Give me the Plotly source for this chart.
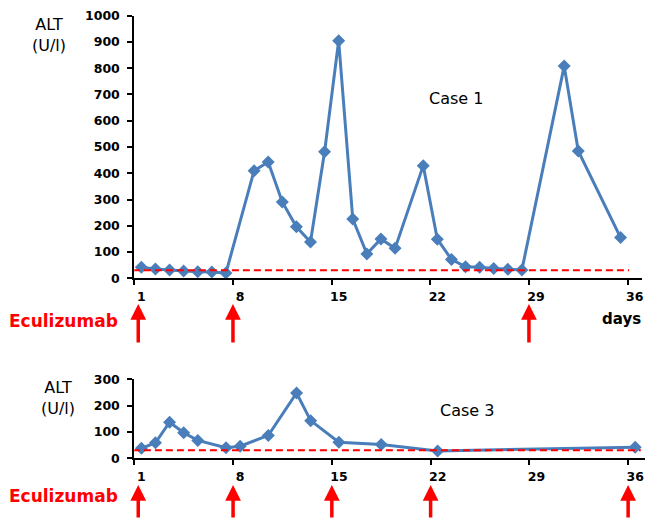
import plotly.graph_objects as go

# ---- data ----
days_case1 = [1, 2, 3, 4, 5, 6, 7, 9, 10, 11, 12, 13, 14, 15, 16, 17, 18, 19,
              21, 22, 23, 24, 25, 26, 27, 28, 31, 32, 35]
alt_case1 = [42, 35, 32, 28, 25, 24, 20, 410, 443, 291, 196, 138, 482, 905, 226, 93, 150, 114,
             429, 149, 72, 44, 42, 37, 34, 32, 808, 485, 155]

days_case3 = [1, 2, 3, 4, 5, 7, 8, 10, 12, 13, 15, 18, 22, 36]
alt_case3 = [38, 59, 137, 97, 68, 40, 46, 87, 248, 143, 61, 52, 28, 42]

uln = 31  # upper limit of normal (dashed line)
dose_case1 = [1, 8, 29]
dose_case3 = [1, 8, 15, 22, 36]
tick_days = [1, 8, 15, 22, 29, 36]
y1_ticks = list(range(0, 1001, 100))
y3_ticks = [0, 100, 200, 300]

BLUE = "#4A7EBB"
FONT = "DejaVu Sans"

fig = go.Figure()

# Case 1
fig.add_trace(go.Scatter(x=days_case1, y=alt_case1, mode="lines+markers",
                         line=dict(color=BLUE, width=3),
                         marker=dict(symbol="diamond", size=10, color=BLUE),
                         xaxis="x", yaxis="y", showlegend=False))
fig.add_trace(go.Scatter(x=[0.4, 35.6], y=[uln, uln], mode="lines",
                         line=dict(color="red", width=2, dash="7px,4px"),
                         xaxis="x", yaxis="y", showlegend=False))
# Case 3
fig.add_trace(go.Scatter(x=days_case3, y=alt_case3, mode="lines+markers",
                         line=dict(color=BLUE, width=3),
                         marker=dict(symbol="diamond", size=10, color=BLUE),
                         xaxis="x2", yaxis="y2", showlegend=False))
fig.add_trace(go.Scatter(x=[0.4, 36.4], y=[uln, uln], mode="lines",
                         line=dict(color="red", width=2, dash="7px,4px"),
                         xaxis="x2", yaxis="y2", showlegend=False))

W, H = 646, 519
def px_x(p):
    return p / W
def px_y(p):
    return (H - p) / H

tickfont = dict(family=FONT, size=12.5, color="black", weight="bold")
minor_ticks = [d - 0.5 for d in tick_days]

def xaxis_cfg(domain, rng, anchor):
    return dict(domain=domain, range=rng, anchor=anchor,
                tickmode="array", tickvals=tick_days, ticktext=[str(d) for d in tick_days],
                ticks="", ticklabelstandoff=6, tickfont=tickfont,
                minor=dict(tickmode="array", tickvals=minor_ticks, ticks="outside",
                           ticklen=5, tickwidth=2, tickcolor="black"),
                showline=True, linecolor="black", linewidth=2,
                showgrid=False, zeroline=False, automargin=False, fixedrange=True)

def yaxis_cfg(domain, rng, vals, anchor):
    return dict(domain=domain, range=rng, anchor=anchor,
                tickmode="array", tickvals=vals, ticks="outside", ticklen=5,
                tickwidth=2, tickcolor="black", ticklabelstandoff=5, tickfont=tickfont,
                showline=True, linecolor="black", linewidth=2,
                showgrid=False, zeroline=False, automargin=False, fixedrange=True)

fig.update_layout(
    width=W, height=H,
    margin=dict(l=0, r=0, t=0, b=0),
    paper_bgcolor="white", plot_bgcolor="white",
    font=dict(family=FONT, color="black"),
    xaxis=xaxis_cfg([px_x(134.3), px_x(641.7)], [0.5, 36.5], "y"),
    yaxis=yaxis_cfg([px_y(278.3), px_y(15.7)], [0, 1000], y1_ticks, "x"),
    xaxis2=xaxis_cfg([px_x(134.3), px_x(644.5)], [0.5, 36.66], "y2"),
    yaxis2=yaxis_cfg([px_y(458.3), px_y(379.3)], [0, 300], y3_ticks, "x2"),
)

ann = []
# y-axis titles
ann.append(dict(text="ALT<br>(U/l)", x=px_x(49), y=px_y(35), xref="paper", yref="paper",
                showarrow=False, font=dict(family=FONT, size=16, color="black"),
                xanchor="center", yanchor="middle"))
ann.append(dict(text="ALT<br>(U/l)", x=px_x(58), y=px_y(398), xref="paper", yref="paper",
                showarrow=False, font=dict(family=FONT, size=16, color="black"),
                xanchor="center", yanchor="middle"))
# case labels
ann.append(dict(text="Case 1", x=px_x(456), y=px_y(98.5), xref="paper", yref="paper",
                showarrow=False, font=dict(family=FONT, size=16, color="black"),
                xanchor="center", yanchor="middle"))
ann.append(dict(text="Case 3", x=px_x(467), y=px_y(410), xref="paper", yref="paper",
                showarrow=False, font=dict(family=FONT, size=16, color="black"),
                xanchor="center", yanchor="middle"))
# Eculizumab labels
ann.append(dict(text="Eculizumab", x=px_x(7), y=px_y(321), xref="paper", yref="paper",
                showarrow=False, font=dict(family=FONT, size=17, color="red", weight="bold"),
                xanchor="left", yanchor="middle"))
ann.append(dict(text="Eculizumab", x=px_x(7), y=px_y(496), xref="paper", yref="paper",
                showarrow=False, font=dict(family=FONT, size=17, color="red", weight="bold"),
                xanchor="left", yanchor="middle"))
ann.append(dict(text="days", x=px_x(643), y=px_y(319), xref="paper", yref="paper",
                showarrow=False, font=dict(family=FONT, size=15, color="black", weight="bold"),
                xanchor="right", yanchor="middle"))

# dose arrows
def arrow_x(d):
    return max(d - 0.5, 0.78)

for d in dose_case1:
    ann.append(dict(text="", x=arrow_x(d), y=px_y(304), xref="x", yref="paper",
                    showarrow=True, ax=0, ay=40, arrowhead=2, arrowsize=0.9,
                    arrowwidth=3.5, arrowcolor="red"))
for d in dose_case3:
    ann.append(dict(text="", x=arrow_x(d), y=px_y(485), xref="x2", yref="paper",
                    showarrow=True, ax=0, ay=40, arrowhead=2, arrowsize=0.9,
                    arrowwidth=3.5, arrowcolor="red"))

fig.update_layout(annotations=ann)

fig.write_html("out.html", config={"displayModeBar": False},
               post_script="document.body.style.margin='0';document.body.style.overflow='hidden';")
